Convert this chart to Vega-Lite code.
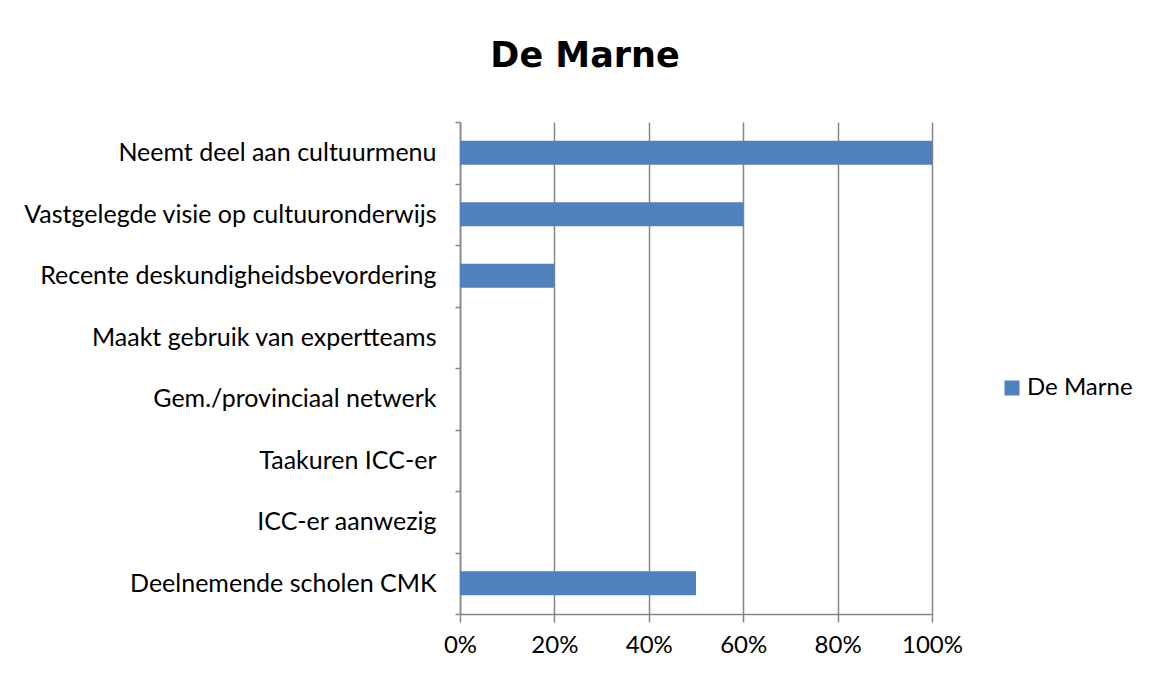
{
  "$schema": "https://vega.github.io/schema/vega-lite/v6.json",
  "autosize": "none",
  "width": 472,
  "height": 492,
  "padding": {"left": 460, "top": 122, "right": 217, "bottom": 62},
  "background": "white",
  "title": {
    "text": "De Marne",
    "font": "DejaVu Sans",
    "fontSize": 35,
    "fontWeight": "bold",
    "color": "#000000",
    "anchor": "middle",
    "dx": -111,
    "offset": 36
  },
  "data": {
    "values": [
      {"categorie": "Neemt deel aan cultuurmenu", "reeks": "De Marne", "waarde": 1.0},
      {"categorie": "Vastgelegde visie op cultuuronderwijs", "reeks": "De Marne", "waarde": 0.6},
      {"categorie": "Recente deskundigheidsbevordering", "reeks": "De Marne", "waarde": 0.2},
      {"categorie": "Maakt gebruik van expertteams ", "reeks": "De Marne", "waarde": 0},
      {"categorie": "Gem./provinciaal netwerk", "reeks": "De Marne", "waarde": 0},
      {"categorie": "Taakuren ICC-er", "reeks": "De Marne", "waarde": 0},
      {"categorie": "ICC-er aanwezig", "reeks": "De Marne", "waarde": 0},
      {"categorie": "Deelnemende scholen CMK", "reeks": "De Marne", "waarde": 0.5}
    ]
  },
  "mark": {"type": "bar", "height": {"band": 0.39}},
  "encoding": {
    "y": {
      "field": "categorie",
      "type": "nominal",
      "sort": null,
      "scale": {"paddingInner": 0, "paddingOuter": 0},
      "axis": {
        "title": null,
        "tickBand": "extent",
        "tickSize": 5,
        "tickColor": "#868686",
        "tickWidth": 1.5,
        "domainColor": "#868686",
        "domainWidth": 1.5,
        "labelPadding": 19,
        "labelFont": "Lato",
        "labelFontSize": 25,
        "labelColor": "#000000",
        "labelLimit": 500,
        "grid": false
      }
    },
    "x": {
      "field": "waarde",
      "type": "quantitative",
      "scale": {"domain": [0, 1], "nice": false},
      "axis": {
        "title": null,
        "format": ".0%",
        "values": [0, 0.2, 0.4, 0.6, 0.8, 1.0],
        "tickSize": 8,
        "tickColor": "#868686",
        "tickWidth": 1.5,
        "domainColor": "#868686",
        "domainWidth": 1.5,
        "grid": true,
        "gridColor": "#868686",
        "gridWidth": 1.5,
        "labelPadding": 11,
        "labelFlush": false,
        "labelFont": "Lato",
        "labelFontSize": 24,
        "labelColor": "#000000"
      }
    },
    "color": {
      "field": "reeks",
      "type": "nominal",
      "scale": {"range": ["#4F81BD"]},
      "legend": {
        "title": null,
        "orient": "none",
        "legendX": 540,
        "legendY": 254,
        "symbolType": "square",
        "symbolSize": 225,
        "symbolStrokeWidth": 0,
        "labelFont": "Lato",
        "labelFontSize": 24,
        "labelColor": "#000000",
        "labelOffset": 3
      }
    }
  },
  "config": {
    "view": {"stroke": null}
  }
}
